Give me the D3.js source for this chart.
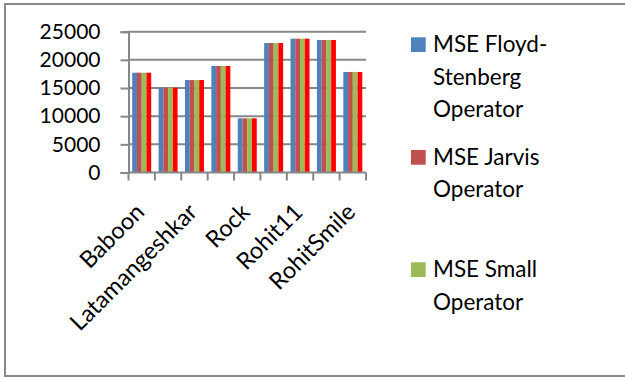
<!DOCTYPE html>
<html><head><meta charset="utf-8">
<script src="https://cdn.jsdelivr.net/npm/d3@7"></script>
<style>body{margin:0;background:#fff}svg{display:block;font-family:Lato,"Open Sans",sans-serif}</style>
</head><body><svg id="c" width="625" height="378"></svg>
<script>
// Data
const categories = ["Baboon","","Latamangeshkar","","Rock","","Rohit11","","RohitSmile"];
const floyd  = [17720,15060,16420,18910,9620,22990,23760,23530,17850];
const jarvis = [17720,15060,16420,18910,9620,22990,23760,23530,17850];
const small  = [17720,15060,16420,18910,9620,22990,23760,23530,17850];
const fourth = [17720,15060,16420,18910,9620,22990,23760,23530,17850];
const yTicks = [0,5000,10000,15000,20000,25000];
const colors = ["#4F81BD","#C0504D","#9BBB59","#FF0000"];
const legendLines = [["MSE Floyd-","Stenberg","Operator"],["MSE Jarvis","Operator"],["MSE Small","Operator"]];

const series = [floyd, jarvis, small, fourth];
const svg = d3.select("#c");
svg.append("rect").attr("x",5).attr("y",4).attr("width",660).attr("height",372)
  .attr("fill","#fff").attr("stroke","#898989").attr("stroke-width",2);

const pLeft=128.5, pRight=366, pTop=31.7, pBottom=172.5;
const y = d3.scaleLinear().domain([0,25000]).range([pBottom,pTop]);
const idx = d3.range(categories.length);
const x = d3.scaleBand().domain(idx).range([pLeft,pRight]).paddingInner(0.28).paddingOuter(0.14);
const xs = d3.scaleBand().domain(d3.range(series.length)).range([0,x.bandwidth()]);

// gridlines
svg.append("g").selectAll("line").data(yTicks.filter(d=>d>0)).join("line")
  .attr("x1",pLeft).attr("x2",pRight).attr("y1",d=>y(d)).attr("y2",d=>y(d))
  .attr("stroke","#878787").attr("stroke-width",2);

// bars
const g = svg.append("g");
series.forEach((s,si)=>{
  g.selectAll(null).data(s).join("rect")
   .attr("x",(d,i)=>x(i)+xs(si)).attr("width",xs.bandwidth())
   .attr("y",d=>y(d)).attr("height",d=>y(0)-y(d)).attr("fill",colors[si]);
});

// y axis
const yAxis = d3.axisLeft(y).tickValues(yTicks).tickSize(8).tickPadding(20).tickFormat(d3.format("d"));
const ya = svg.append("g").attr("transform",`translate(${pLeft},0)`).call(yAxis);
ya.selectAll("path,line").attr("stroke","#878787").attr("stroke-width",2);
ya.selectAll("text").attr("font-size",21).attr("fill","#000").attr("font-family","Lato");

// x axis baseline + boundary ticks
const step = x.step();
svg.append("line").attr("x1",pLeft).attr("x2",pRight).attr("y1",pBottom).attr("y2",pBottom)
  .attr("stroke","#878787").attr("stroke-width",2);
svg.append("g").selectAll("line").data(d3.range(categories.length+1)).join("line")
  .attr("x1",i=>pLeft+i*step).attr("x2",i=>pLeft+i*step).attr("y1",pBottom).attr("y2",pBottom+8)
  .attr("stroke","#878787").attr("stroke-width",2);

// x labels
svg.append("g").selectAll("text").data(idx.filter(i=>categories[i]!=="")).join("text")
  .attr("transform",i=>`translate(${x(i)+x.bandwidth()/2+4},${pBottom+41}) rotate(-45)`)
  .attr("text-anchor","end").attr("font-size",23.5).attr("fill","#000")
  .text(i=>categories[i]);

// legend
const legY = [37.3,150,262.3];
legendLines.forEach((lines,li)=>{
  svg.append("rect").attr("x",411).attr("y",legY[li]).attr("width",14.7).attr("height",14.7).attr("fill",colors[li]);
  lines.forEach((t,k)=>{
    svg.append("text").attr("x",433).attr("y",legY[li]+15+k*32.2).attr("font-size",22.5).attr("fill","#000").text(t);
  });
});
</script></body></html>
